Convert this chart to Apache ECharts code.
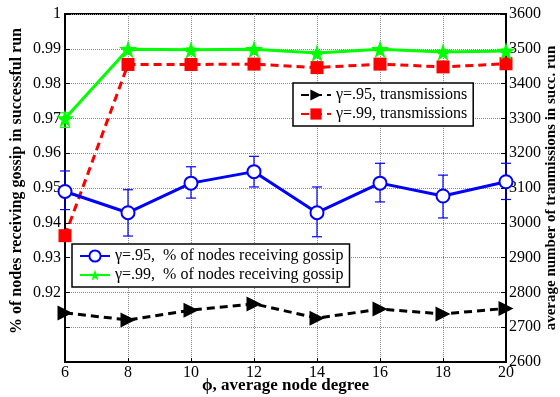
<!DOCTYPE html>
<html>
<head>
<meta charset="utf-8">
<script src="https://cdn.jsdelivr.net/npm/echarts@6/dist/echarts.min.js"></script>
<style>
  html, body { margin: 0; padding: 0; background: #fff; }
  #chart { width: 560px; height: 397px; }
</style>
</head>
<body>
<div id="chart"></div>
<script>
// node degree (x axis)
const degrees = [6, 8, 10, 12, 14, 16, 18, 20];

// fraction of nodes receiving gossip (left axis)
const pct95 = [0.949, 0.9429, 0.9514, 0.9547, 0.9429, 0.9514, 0.9477, 0.9518];
const pct95Low = [0.9438, 0.9362, 0.9471, 0.9503, 0.9360, 0.9460, 0.9414, 0.9467];
const pct95High = [0.9549, 0.9495, 0.9561, 0.9591, 0.9503, 0.9571, 0.9537, 0.9571];
const pct99 = [0.970, 0.9899, 0.9897, 0.9899, 0.9888, 0.9899, 0.9891, 0.9894];
const pct99Low = [0.9674, 0.9894, 0.9892, 0.9894, 0.9883, 0.9894, 0.9886, 0.9889];
const pct99High = [0.9716, 0.9904, 0.9902, 0.9904, 0.9893, 0.9904, 0.9896, 0.9899];

// transmissions in successful run (right axis)
const tx95 = [2741, 2721, 2749, 2767, 2726, 2752, 2738, 2754];
const tx99 = [2963, 3455, 3455, 3456, 3446, 3456, 3448, 3457];

const names = {
  tx95: 'γ=.95, transmissions',
  tx99: 'γ=.99, transmissions',
  pct95: 'γ=.95,  % of nodes receiving gossip',
  pct99: 'γ=.99,  % of nodes receiving gossip'
};

const serif = 'Liberation Serif';
const star = 'path://M50,0 L61,35 L98,35 L68,57 L79,91 L50,70 L21,91 L32,57 L2,35 L39,35 Z';

function pairs(ys) {
  return degrees.map((x, i) => [x, ys[i]]);
}

function errorRows(low, high) {
  return degrees.map((x, i) => [x, low[i], high[i]]);
}

function errorBar(color) {
  return function (params, api) {
    const x = api.value(0);
    const lo = api.coord([x, api.value(1)]);
    const hi = api.coord([x, api.value(2)]);
    const cap = 5;
    const style = { stroke: color, lineWidth: 1.2 };
    return {
      type: 'group',
      children: [
        { type: 'line', shape: { x1: lo[0], y1: lo[1], x2: hi[0], y2: hi[1] }, style: style },
        { type: 'line', shape: { x1: lo[0] - cap, y1: lo[1], x2: lo[0] + cap, y2: lo[1] }, style: style },
        { type: 'line', shape: { x1: hi[0] - cap, y1: hi[1], x2: hi[0] + cap, y2: hi[1] }, style: style }
      ]
    };
  };
}

const legendBase = {
  orient: 'vertical',
  padding: [4, 6, 4, 7],
  itemGap: 3,
  itemWidth: 30, itemHeight: 14,
  borderColor: '#000', borderWidth: 1.5,
  backgroundColor: '#fff',
  textStyle: { fontFamily: serif, fontSize: 16, color: '#000' }
};

const chart = echarts.init(document.getElementById('chart'));

const option = {
  animation: false,
  backgroundColor: '#fff',
  textStyle: { fontFamily: serif, color: '#000' },
  grid: {
    left: 65, right: 54, top: 14, bottom: 35,
    outerBoundsMode: 'none',
    containLabel: false,
    show: true, borderColor: '#000', borderWidth: 2
  },
  legend: [
    Object.assign({}, legendBase, { data: [names.tx95, names.tx99], left: 293, top: 83 }),
    Object.assign({}, legendBase, { data: [names.pct95, names.pct99], left: 72, top: 244 })
  ],
  xAxis: {
    type: 'value',
    min: 6, max: 20, interval: 2,
    name: 'ϕ, average node degree',
    nameLocation: 'middle',
    nameGap: 15,
    nameMoveOverlap: false,
    nameTextStyle: { fontFamily: serif, fontSize: 17, fontWeight: 'bold', color: '#000' },
    axisLine: { show: true, lineStyle: { color: '#000', width: 2 } },
    axisTick: { show: true, inside: true, length: 4, lineStyle: { color: '#000' } },
    axisLabel: { fontFamily: serif, fontSize: 16, color: '#000', margin: 3 },
    splitLine: { show: true, lineStyle: { color: '#888', type: 'dotted', width: 1 } }
  },
  yAxis: [
    {
      type: 'value',
      min: 0.9, max: 1, interval: 0.01,
      position: 'left',
      name: '% of nodes receiving gossip in successful run',
      nameLocation: 'middle',
      nameGap: 40,
      nameMoveOverlap: false,
      nameTextStyle: {
        fontFamily: serif, fontSize: 16, fontWeight: 'bold', color: '#000',
        padding: [0, 0, 0, 14]
      },
      axisLine: { show: true, lineStyle: { color: '#000', width: 2 } },
      axisTick: { show: true, inside: true, length: 5, lineStyle: { color: '#000' } },
      axisLabel: {
        fontFamily: serif, fontSize: 16, color: '#000', margin: 4,
        formatter: v => (v < 0.915 ? '' : String(parseFloat(v.toFixed(2))))
      },
      splitLine: { show: true, lineStyle: { color: '#888', type: 'dotted', width: 1 } }
    },
    {
      type: 'value',
      min: 2600, max: 3600, interval: 100,
      position: 'right',
      name: 'average number of tranmissions in succ. run',
      nameLocation: 'middle',
      nameGap: 38,
      nameRotate: 90,
      nameMoveOverlap: false,
      nameTextStyle: { fontFamily: serif, fontSize: 15, fontWeight: 'bold', color: '#000' },
      axisLine: { show: true, lineStyle: { color: '#000', width: 2 } },
      axisTick: { show: true, inside: true, length: 5, lineStyle: { color: '#000' } },
      axisLabel: { fontFamily: serif, fontSize: 16, color: '#000', margin: 3, formatter: v => String(v) },
      splitLine: { show: false }
    }
  ],
  series: [
    {
      name: names.tx95,
      type: 'line',
      yAxisIndex: 1,
      data: pairs(tx95),
      symbol: 'triangle',
      symbolRotate: -90,
      symbolSize: 15,
      itemStyle: { color: '#000' },
      lineStyle: { color: '#000', width: 3, type: [8, 5] },
      z: 3
    },
    {
      name: names.tx99,
      type: 'line',
      yAxisIndex: 1,
      data: pairs(tx99),
      symbol: 'rect',
      symbolSize: 13,
      itemStyle: { color: '#ff0000' },
      lineStyle: { color: '#ff0000', width: 3, type: [8, 5] },
      z: 3
    },
    {
      name: 'err95',
      type: 'custom',
      yAxisIndex: 0,
      data: errorRows(pct95Low, pct95High),
      encode: { x: 0, y: [1, 2] },
      renderItem: errorBar('#0000ff'),
      silent: true,
      z: 2
    },
    {
      name: 'err99',
      type: 'custom',
      yAxisIndex: 0,
      data: errorRows(pct99Low, pct99High),
      encode: { x: 0, y: [1, 2] },
      renderItem: errorBar('#00ff00'),
      silent: true,
      z: 2
    },
    {
      name: names.pct95,
      type: 'line',
      yAxisIndex: 0,
      data: pairs(pct95),
      symbol: 'emptyCircle',
      symbolSize: 13,
      itemStyle: { color: '#0000ff', borderColor: '#0000ff', borderWidth: 3 },
      lineStyle: { color: '#0000ff', width: 3 },
      z: 4
    },
    {
      name: names.pct99,
      type: 'line',
      yAxisIndex: 0,
      data: pairs(pct99),
      symbol: star,
      symbolSize: 18,
      itemStyle: { color: '#00ff00' },
      lineStyle: { color: '#00ff00', width: 3 },
      z: 4
    }
  ]
};

chart.setOption(option);
</script>
</body>
</html>
